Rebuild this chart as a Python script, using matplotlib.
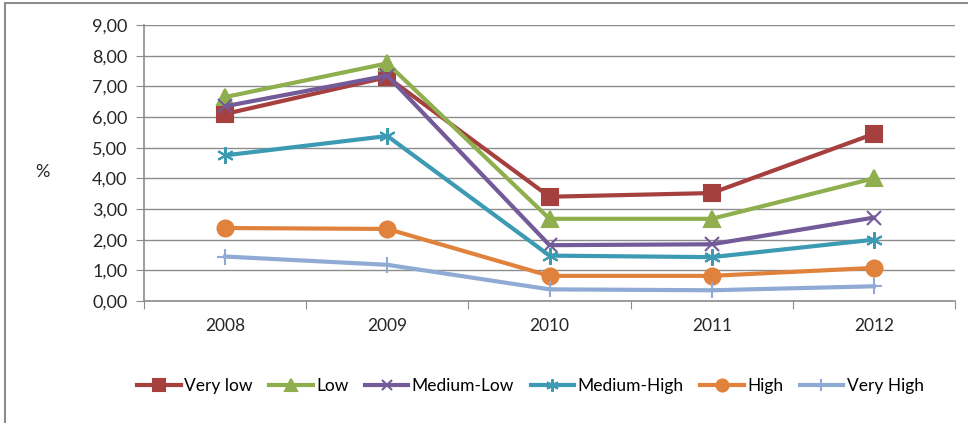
import matplotlib.pyplot as plt
from matplotlib.patches import Rectangle
from matplotlib.ticker import FuncFormatter

years = ['2008', '2009', '2010', '2011', '2012']
very_low = [6.10, 7.30, 3.40, 3.52, 5.45]
low = [6.65, 7.75, 2.68, 2.68, 4.00]
medium_low = [6.35, 7.35, 1.82, 1.85, 2.72]
medium_high = [4.75, 5.38, 1.48, 1.43, 2.00]
high = [2.38, 2.35, 0.82, 0.82, 1.08]
very_high = [1.45, 1.18, 0.38, 0.35, 0.48]

series = [
    ('Very low', very_low, '#A5403E', 's', 11),
    ('Low', low, '#8FAE4E', '^', 12),
    ('Medium-Low', medium_low, '#735A98', 'x', 10),
    ('Medium-High', medium_high, '#3C9AB2', (6, 2, 0), 12),
    ('High', high, '#E0823C', 'o', 11.5),
    ('Very High', very_high, '#8FAAD4', '+', 12),
]

plt.rcParams['font.family'] = ['Lato', 'DejaVu Sans']

fig = plt.figure(figsize=(9.68, 4.23), dpi=100)
ax = fig.add_axes([0.1488, 0.2884, 0.8378, 0.6525])

x = range(len(years))
for name, vals, col, mk, ms in series:
    ax.plot(x, vals, color=col, lw=3, marker=mk, markersize=ms,
            markeredgewidth=1.5, markeredgecolor=col, label=name, zorder=3)

ax.set_ylim(0, 9)
ax.set_yticks(range(10))
ax.yaxis.set_major_formatter(FuncFormatter(lambda v, p: f'{v:.2f}'.replace('.', ',')))
ax.grid(axis='y', color='#8C8C8C', lw=1)
ax.set_axisbelow(True)

ax.set_xlim(-0.5, 4.5)
ax.set_xticks([i - 0.5 for i in range(6)])
ax.set_xticklabels([])
ax.set_xticks(list(x), minor=True)
ax.set_xticklabels(years, minor=True)
ax.tick_params(axis='x', which='major', length=6, color='#8C8C8C', direction='out')
ax.tick_params(axis='x', which='minor', length=0, pad=12, labelsize=12.5, labelcolor='#262626')
ax.tick_params(axis='y', length=6, color='#8C8C8C', pad=6, labelsize=13, labelcolor='#262626')

for s in ['top', 'right']:
    ax.spines[s].set_visible(False)
for s in ['left', 'bottom']:
    ax.spines[s].set_color('#8C8C8C')
    ax.spines[s].set_linewidth(1.2)

fig.text(0.044, 0.593, '%', fontsize=13, color='#262626', ha='center', va='center')

fig.legend(loc='center', bbox_to_anchor=(0.548, 0.088), ncol=6, frameon=False,
           fontsize=12.5, handlelength=2.5, handletextpad=0.2, columnspacing=0.95,
           markerscale=0.75)

fig.add_artist(Rectangle((0.005, -0.05), 1.2, 1.043, transform=fig.transFigure,
                         fill=False, edgecolor='#8C8C8C', lw=1.5))

plt.savefig('out.png')
